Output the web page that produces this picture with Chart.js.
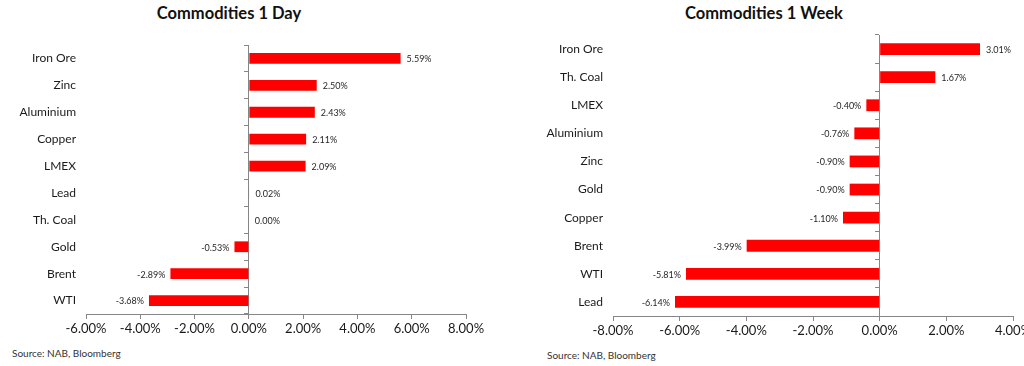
<!DOCTYPE html>
<html>
<head>
<meta charset="utf-8">
<script src="https://cdn.jsdelivr.net/npm/chart.js@4"></script>
<style>
  body { margin: 0; width: 1024px; height: 366px; overflow: hidden; background: #fff; font-family: Lato, sans-serif; position: relative; }
  .box { position: absolute; }
  .title { position: absolute; top: 3px; font-weight: bold; font-size: 16.5px; color: #111; text-align: center; }
  .source { position: absolute; font-size: 10px; color: #333; }
</style>
</head>
<body>
<div class="title" style="left:129px;width:200px;">Commodities 1 Day</div>
<div class="title" style="left:664px;width:200px;">Commodities 1 Week</div>
<div class="box" style="left:0;top:0;width:500px;height:340px;"><canvas id="dayChart"></canvas></div>
<div class="box" style="left:512px;top:0;width:530px;height:342px;"><canvas id="weekChart"></canvas></div>
<div class="source" style="left:12px;top:347px;">Source: NAB, Bloomberg</div>
<div class="source" style="left:547px;top:349px;">Source: NAB, Bloomberg</div>
<script>
  const dayLabels = ["Iron Ore", "Zinc", "Aluminium", "Copper", "LMEX", "Lead", "Th. Coal", "Gold", "Brent", "WTI"];
  const dayValues = [5.59, 2.50, 2.43, 2.11, 2.09, 0.02, 0.00, -0.53, -2.89, -3.68];

  const weekLabels = ["Iron Ore", "Th. Coal", "LMEX", "Aluminium", "Zinc", "Gold", "Copper", "Brent", "WTI", "Lead"];
  const weekValues = [3.01, 1.67, -0.40, -0.76, -0.90, -0.90, -1.10, -3.99, -5.81, -6.14];

  const axisGrey = '#868686';
  const textColor = '#1a1a1a';

  // value labels next to each bar end
  const barLabels = {
    id: 'barLabels',
    afterDatasetsDraw(chart) {
      const ctx = chart.ctx;
      const meta = chart.getDatasetMeta(0);
      const vals = chart.data.datasets[0].data;
      ctx.save();
      ctx.font = '9px Lato, sans-serif';
      ctx.fillStyle = '#262626';
      ctx.textBaseline = 'middle';
      meta.data.forEach((bar, i) => {
        const v = vals[i];
        const txt = v.toFixed(2) + '%';
        if (v < 0) {
          ctx.textAlign = 'right';
          ctx.fillText(txt, bar.x - 5, bar.y + 1);
        } else {
          ctx.textAlign = 'left';
          ctx.fillText(txt, bar.x + 6, bar.y + 1);
        }
      });
      ctx.restore();
    }
  };

  function makeChart(id, labels, values, xmin, xmax, pad, labelWidth, barPct) {
    return new Chart(document.getElementById(id), {
      type: 'bar',
      data: {
        labels: labels,
        datasets: [{
          data: values,
          backgroundColor: '#ff0000',
          borderWidth: 0,
          barPercentage: barPct,
          categoryPercentage: 1
        }]
      },
      plugins: [barLabels],
      options: {
        indexAxis: 'y',
        responsive: true,
        maintainAspectRatio: false,
        animation: false,
        layout: { padding: pad },
        plugins: {
          legend: { display: false },
          tooltip: { enabled: false }
        },
        scales: {
          x: {
            min: xmin,
            max: xmax,
            ticks: {
              stepSize: 2,
              padding: 2,
              color: textColor,
              font: { family: 'Lato, sans-serif', size: 13 },
              callback: v => v.toFixed(2) + '%'
            },
            grid: { drawOnChartArea: false, drawTicks: true, tickLength: 5, color: axisGrey },
            border: { color: axisGrey },
            afterFit: s => { s.height = 24; }
          },
          y: {
            position: 'left',
            ticks: {
              padding: 2,
              color: textColor,
              font: { family: 'Lato, sans-serif', size: 12 }
            },
            grid: { display: false },
            border: { display: false },
            afterFit: s => { s.width = labelWidth; }
          },
          yZero: {
            type: 'category',
            axis: 'y',
            position: { x: 0 },
            ticks: { display: false },
            grid: { drawOnChartArea: false, drawTicks: true, tickLength: 4, color: axisGrey, offset: true },
            border: { color: axisGrey }
          }
        }
      }
    });
  }

  makeChart('dayChart', dayLabels, dayValues, -6, 8,
    { top: 45, right: 34, bottom: 2, left: 0 }, 86, 0.4);
  makeChart('weekChart', weekLabels, weekValues, -8, 4,
    { top: 35, right: 29, bottom: 2, left: 0 }, 101, 0.42);
</script>
</body>
</html>
